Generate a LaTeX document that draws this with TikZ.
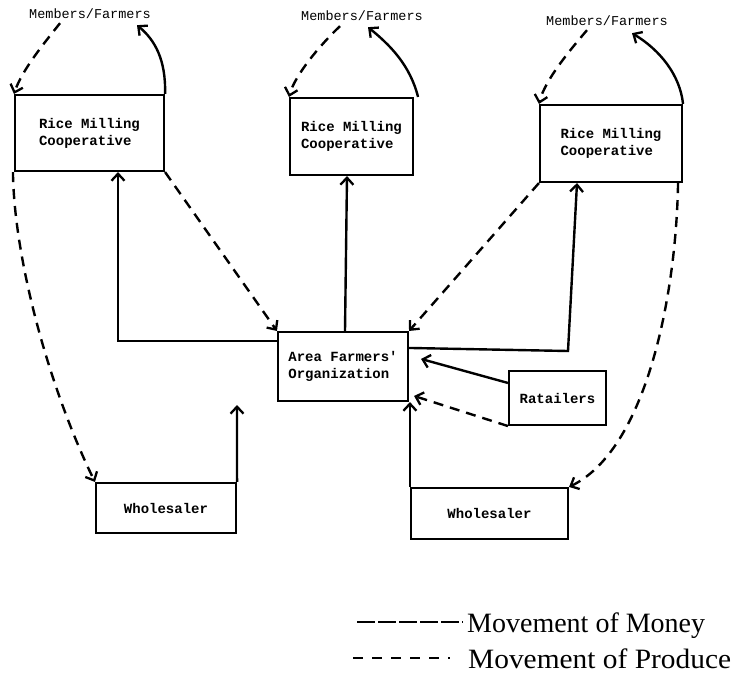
\documentclass[tikz,border=0pt]{standalone}
\usepackage{fontspec}
\setmainfont{Liberation Serif}
\setmonofont{Liberation Mono}
\usetikzlibrary{arrows.meta,calc}
\begin{document}
\begin{tikzpicture}[x=1pt,y=-1pt,
  box/.style={draw, line width=2.1pt, inner sep=0pt, align=left,
    font=\ttfamily\bfseries\fontsize{14}{17}\selectfont},
  tag/.style={inner sep=0pt, font=\ttfamily\fontsize{13.5}{16}\selectfont},
  tipA/.style={-{Straight Barb[length=7pt,width=13pt,line width=2.3pt]}},
  money/.style={draw, line width=2.4pt, tipA},
  produce/.style={draw, line width=2.4pt, dash pattern=on 10pt off 7pt, tipA},
  legendtext/.style={anchor=base west, inner sep=0pt,
    font=\fontsize{28}{32}\selectfont}]
\useasboundingbox (0,0) rectangle (742,683);

% boxes
\node[box, minimum width=149pt, minimum height=76pt] (rmcL) at (89.5,133) {Rice Milling\\Cooperative};
\node[box, minimum width=123pt, minimum height=77pt] (rmcM) at (351.5,136.5) {Rice Milling\\Cooperative};
\node[box, minimum width=142pt, minimum height=77pt] (rmcR) at (611,143.5) {Rice Milling\\Cooperative};
\node[box, minimum width=130pt, minimum height=69pt] (afo) at (343,366.5) {Area Farmers'\\Organization};
\node[box, minimum width=97pt, minimum height=54pt] (ret) at (557.5,398) {Ratailers};
\node[box, minimum width=140pt, minimum height=50pt] (whL) at (166,508) {Wholesaler};
\node[box, minimum width=157pt, minimum height=51pt] (whR) at (489.5,513.5) {Wholesaler};

% member groups
\node[tag] (mfL) at (90,14) {Members/Farmers};
\node[tag] (mfM) at (362,16) {Members/Farmers};
\node[tag] (mfR) at (607,21) {Members/Farmers};

% produce and money between members and cooperatives
\draw[produce] ([xshift=31pt,yshift=-4pt]mfL.south west) .. controls (45,42) and (22,70) .. (rmcL.north west);
\draw[money] (rmcL.north east) .. controls (166,60) and (155,40) .. ([xshift=47pt,yshift=-6pt]mfL.south);
\draw[produce] ([xshift=-22pt,yshift=-5pt]mfM.south) .. controls (320,45) and (295,75) .. (rmcM.north west);
\draw[money] ([xshift=4pt]rmcM.north east) .. controls (410,65) and (390,45) .. ([xshift=6pt,yshift=-6pt]mfM.south);
\draw[produce] ([xshift=-20pt,yshift=-4pt]mfR.south) .. controls (570,50) and (545,80) .. (rmcR.north west);
\draw[money] (rmcR.north east) .. controls (680,75) and (660,50) .. ([xshift=25pt,yshift=-7pt]mfR.south);

% money from the area organization to the cooperatives
\draw[money] ([yshift=-10pt]afo.north west) -| ([xshift=28.5pt]rmcL.south);
\draw[money] ([xshift=2pt]afo.north) -- ([xshift=-4.5pt]rmcM.south);
\coordinate (cornR) at (568,351);
\draw[money] ([yshift=-17pt]afo.north east) -- (cornR) -- ([xshift=-34pt]rmcR.south);

% produce from the cooperatives to the area organization
\draw[produce] (rmcL.south east) -- (afo.north west);
\draw[produce] (rmcR.south west) -- (afo.north east);

% produce from the cooperatives to the wholesalers
\draw[produce] ([xshift=-1pt]rmcL.south west) .. controls (14,260) and (50,390) .. (whL.north west);
\draw[produce] ([xshift=-5pt]rmcR.south east) .. controls (676,300) and (645,450) .. (whR.north east);

% money from the wholesalers
\coordinate (whLtip) at (237,405);
\draw[money] (whL.north east) -- (whLtip);
\draw[money] (whR.north west) -- (whR.north west |- afo.south);

% retailers and the area organization
\draw[money] ([yshift=-13pt]ret.north west) -- ([xshift=12pt,yshift=-28pt]afo.north east);
\draw[produce] (ret.south west) -- ([xshift=5pt,yshift=-65pt]afo.north east);

% legend
\coordinate (lgA1) at (357,622);
\coordinate (lgA2) at (463,622);
\coordinate (lgB1) at (353,658);
\coordinate (lgB2) at (450,658);
\draw[line width=2.6pt, dash pattern=on 18pt off 3pt] (lgA1) -- (lgA2);
\draw[line width=2.2pt, dash pattern=on 10pt off 9pt] (lgB1) -- (lgB2);
\node[legendtext] (lgMoney) at (467,632) {Movement of Money};
\node[legendtext] (lgProduce) at (468,668) {\scalebox{1.05}[1]{Movement of Produce}};
\end{tikzpicture}
\end{document}
